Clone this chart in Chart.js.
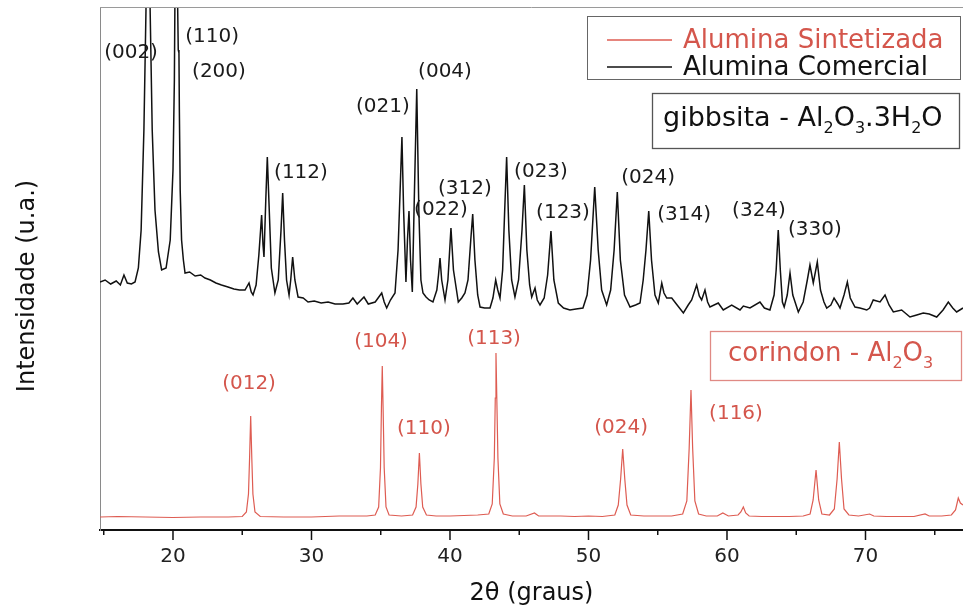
<!DOCTYPE html>
<html>
<head>
<meta charset="utf-8">
<script src="https://cdn.jsdelivr.net/npm/chart.js@4"></script>
<style>
  html, body { margin: 0; padding: 0; background: #fff; }
  #wrap { width: 963px; height: 608px; }
</style>
</head>
<body>
<div id="wrap"><canvas id="diagramm" width="963" height="608"></canvas></div>
<script>
// 2θ (graus) / intensidade (u.a.)
const comercial = [
  [14.73, 248], [15.1, 250], [15.5, 246], [15.9, 249], [16.2, 245], [16.46, 255], [16.7, 247],
  [17.0, 246], [17.26, 248], [17.5, 262], [17.7, 300], [17.9, 400], [18.05, 520], [18.2, 700],
  [18.35, 520], [18.5, 400], [18.7, 320], [18.95, 278], [19.18, 260], [19.5, 262], [19.8, 290],
  [20.0, 360], [20.1, 450], [20.2, 650], [20.3, 560], [20.38, 480], [20.43, 477], [20.46, 420],
  [20.52, 340], [20.62, 290], [20.75, 270], [20.87, 257], [21.2, 258], [21.6, 254], [22.0, 255],
  [22.31, 252], [22.7, 250], [23.1, 247], [23.5, 245], [23.97, 243], [24.4, 241], [24.8, 240],
  [25.2, 240], [25.49, 247], [25.65, 238], [25.78, 235], [26.0, 245], [26.2, 275], [26.4, 315],
  [26.5, 285], [26.57, 273], [26.7, 330], [26.81, 373], [26.95, 320], [27.1, 262], [27.36, 237],
  [27.6, 250], [27.8, 300], [27.92, 337], [28.05, 290], [28.2, 250], [28.38, 235], [28.5, 250],
  [28.64, 273], [28.8, 250], [29.03, 233], [29.4, 232], [29.75, 228], [30.2, 229], [30.7, 227],
  [31.2, 228], [31.7, 226], [32.27, 226], [32.7, 227], [32.99, 232], [33.3, 226], [33.79, 233],
  [34.1, 226], [34.6, 228], [35.07, 237], [35.25, 228], [35.43, 222], [35.7, 230], [36.03, 237],
  [36.25, 280], [36.4, 340], [36.53, 393], [36.65, 320], [36.82, 248], [36.93, 290], [37.04, 319],
  [37.15, 270], [37.28, 238], [37.42, 330], [37.6, 441], [37.75, 320], [37.9, 250], [38.05, 237],
  [38.27, 233], [38.5, 230], [38.77, 228], [39.05, 240], [39.17, 255], [39.28, 272], [39.4, 250],
  [39.64, 230], [39.85, 250], [40.07, 302], [40.25, 260], [40.6, 228], [40.85, 232], [41.08, 237],
  [41.3, 250], [41.5, 290], [41.64, 316], [41.8, 270], [42.0, 235], [42.17, 223], [42.5, 222],
  [42.89, 222], [43.1, 232], [43.3, 250], [43.45, 240], [43.61, 232], [43.8, 260], [43.95, 320],
  [44.09, 373], [44.25, 300], [44.45, 250], [44.69, 233], [44.95, 250], [45.2, 300], [45.37, 345],
  [45.55, 280], [45.75, 245], [45.9, 233], [46.14, 242], [46.3, 230], [46.5, 225], [46.8, 232],
  [47.05, 255], [47.29, 299], [47.5, 250], [47.82, 227], [48.2, 222], [48.66, 220], [49.1, 221],
  [49.6, 222], [49.9, 235], [50.15, 270], [50.45, 343], [50.7, 280], [50.95, 240], [51.31, 225],
  [51.6, 240], [51.85, 280], [52.08, 338], [52.3, 270], [52.6, 235], [53.0, 223], [53.4, 225],
  [53.72, 227], [53.95, 250], [54.15, 280], [54.35, 319], [54.55, 270], [54.8, 235], [55.04, 227],
  [55.29, 247], [55.45, 237], [55.65, 232], [56.01, 232], [56.4, 225], [56.85, 217], [57.2, 225],
  [57.45, 230], [57.81, 245], [58.0, 234], [58.17, 230], [58.41, 240], [58.6, 228], [58.77, 223],
  [59.37, 227], [59.73, 220], [60.34, 225], [60.94, 220], [61.18, 224], [61.66, 222], [62.38, 228],
  [62.7, 222], [63.1, 220], [63.4, 235], [63.55, 260], [63.7, 300], [63.85, 260], [64.0, 228],
  [64.13, 223], [64.35, 235], [64.55, 257], [64.75, 235], [65.15, 218], [65.5, 228], [65.8, 250],
  [65.99, 265], [66.23, 247], [66.52, 268], [66.75, 240], [67.0, 228], [67.2, 222], [67.5, 225],
  [67.73, 232], [68.0, 226], [68.16, 222], [68.45, 235], [68.69, 248], [68.9, 232], [69.24, 223],
  [69.6, 222], [70.09, 220], [70.3, 222], [70.56, 230], [71.05, 228], [71.41, 235], [71.7, 225],
  [72.01, 218], [72.61, 220], [73.21, 213], [73.7, 215], [74.17, 217], [74.6, 216], [75.14, 213],
  [75.6, 220], [75.98, 228], [76.3, 222], [76.58, 218], [77.04, 222]
];

const sintetizada = [
  [14.73, 13], [16, 13.5], [18, 13], [20, 12.5], [22, 13], [24, 13], [25.0, 13.5], [25.3, 18],
  [25.45, 36], [25.53, 72], [25.61, 114], [25.69, 72], [25.77, 36], [25.92, 18], [26.3, 13.5],
  [28, 13], [30, 13], [32, 14], [34, 14], [34.6, 15], [34.85, 23], [34.98, 62], [35.05, 122],
  [35.11, 164], [35.17, 122], [35.25, 62], [35.38, 23], [35.6, 15], [36.5, 14], [37.3, 15],
  [37.55, 23], [37.68, 46], [37.79, 77], [37.9, 46], [38.03, 23], [38.3, 15], [39, 14], [40, 14],
  [41, 14.5], [42, 15], [42.8, 16], [43.05, 26], [43.2, 72], [43.27, 132], [43.32, 177],
  [43.38, 132], [43.46, 72], [43.6, 26], [43.85, 16], [44.5, 14], [45.5, 14], [46.1, 17],
  [46.4, 14], [47, 14], [48, 14], [49, 13.5], [50, 14], [51, 13.5], [51.9, 15], [52.15, 25],
  [52.32, 51], [52.47, 81], [52.62, 51], [52.78, 25], [53.05, 15], [54, 14], [55, 14], [56, 14],
  [56.8, 16], [57.1, 29], [57.27, 82], [57.4, 140], [57.52, 82], [57.68, 29], [57.95, 16],
  [58.5, 14], [59.3, 14], [59.7, 17], [60.1, 14], [60.8, 15], [61.0, 18], [61.18, 23], [61.35, 17],
  [61.6, 14], [62.5, 13.5], [63.5, 13.5], [64.5, 13.5], [65.5, 14], [66.0, 16], [66.22, 30],
  [66.43, 60], [66.62, 30], [66.85, 16], [67.4, 15], [67.75, 21], [67.95, 51], [68.11, 88],
  [68.27, 51], [68.45, 21], [68.8, 15], [69.5, 14], [70.3, 16], [70.6, 14], [71.5, 13.5],
  [72.5, 13.5], [73.5, 13.5], [74.3, 16], [74.6, 14], [75.5, 14], [76.2, 15], [76.5, 20],
  [76.7, 32], [76.85, 27], [77.04, 25]
];

// índices de Miller (gibbsita, preto) e posição do texto (2θ, intensidade)
const gibbsitaLabels = ['(002)', '(110)', '(200)', '(112)', '(021)', '(004)', '(022)', '(312)',
                        '(023)', '(123)', '(024)', '(314)', '(324)', '(330)'];
const gibbsitaLabelX = [16.97, 22.82, 23.32, 29.24, 35.16, 39.64, 39.35, 41.08, 46.57, 48.16, 54.30, 56.90, 62.31, 66.35];
const gibbsitaLabelY = [477, 493, 458, 357, 423, 458, 320, 341, 358, 317, 352, 315, 319, 300];

// índices de Miller (corindon, vermelho)
const corindonLabels = ['(012)', '(104)', '(110)', '(113)', '(024)', '(116)'];
const corindonLabelX = [25.49, 35.02, 38.12, 43.18, 52.35, 60.65];
const corindonLabelY = [146, 188, 101, 191, 102, 116];

const xTicksMajor = [20, 30, 40, 50, 60, 70];

const RED = '#de5c52';
const RED_TEXT = '#d4564c';
const FONT = '"DejaVu Sans", sans-serif';

// texto com subscritos: partes [texto, subscrito?]
function drawSubText(ctx, parts, x, y, size, color) {
  ctx.save();
  ctx.fillStyle = color;
  ctx.textBaseline = 'middle';
  ctx.textAlign = 'left';
  let cx = x;
  parts.forEach(([t, sub]) => {
    const s = sub ? Math.round(size * 0.6) : size;
    ctx.font = s + 'px ' + FONT;
    ctx.fillText(t, cx, sub ? y + size * 0.38 : y);
    cx += ctx.measureText(t).width;
  });
  ctx.restore();
}

const extras = {
  id: 'extras',
  afterDraw(chart) {
    const ctx = chart.ctx;
    const xs = chart.scales.x, ys = chart.scales.y;
    const area = chart.chartArea;

    // moldura superior
    ctx.save();
    ctx.strokeStyle = '#9a9a9a';
    ctx.lineWidth = 1;
    ctx.beginPath();
    ctx.moveTo(area.left, area.top + 0.5);
    ctx.lineTo(area.right, area.top + 0.5);
    ctx.stroke();

    // marcas do eixo x (maiores a cada 10, menores a cada 5)
    ctx.strokeStyle = '#111';
    ctx.lineWidth = 1.5;
    for (let v = 15; v <= 75; v += 5) {
      const px = xs.getPixelForValue(v);
      const len = xTicksMajor.includes(v) ? 10 : 5;
      ctx.beginPath();
      ctx.moveTo(px, area.bottom);
      ctx.lineTo(px, area.bottom + len);
      ctx.stroke();
    }

    // rótulos dos picos
    ctx.font = '20px ' + FONT;
    ctx.textAlign = 'center';
    ctx.textBaseline = 'middle';
    ctx.fillStyle = '#1a1a1a';
    gibbsitaLabels.forEach((t, i) => {
      ctx.fillText(t, xs.getPixelForValue(gibbsitaLabelX[i]), ys.getPixelForValue(gibbsitaLabelY[i]));
    });
    ctx.fillStyle = RED_TEXT;
    corindonLabels.forEach((t, i) => {
      ctx.fillText(t, xs.getPixelForValue(corindonLabelX[i]), ys.getPixelForValue(corindonLabelY[i]));
    });

    // legenda
    ctx.strokeStyle = '#666';
    ctx.lineWidth = 1;
    ctx.strokeRect(587.5, 16.5, 373, 63);
    const ds = chart.data.datasets;
    const rowsY = [40, 67];
    ds.forEach((d, i) => {
      ctx.strokeStyle = d.borderColor;
      ctx.lineWidth = 1.3;
      ctx.beginPath();
      ctx.moveTo(607, rowsY[i]);
      ctx.lineTo(672, rowsY[i]);
      ctx.stroke();
      ctx.fillStyle = i === 0 ? RED_TEXT : '#111';
      ctx.font = '26px ' + FONT;
      ctx.textAlign = 'left';
      ctx.fillText(d.label, 683, rowsY[i] + 1);
    });

    // caixa gibbsita
    ctx.strokeStyle = '#555';
    ctx.strokeRect(652.5, 93.5, 307, 55);
    drawSubText(ctx, [['gibbsita - Al', false], ['2', true], ['O', false], ['3', true],
                      ['.3H', false], ['2', true], ['O', false]], 663, 119, 27, '#111');

    // caixa corindon
    ctx.strokeStyle = '#e08a84';
    ctx.strokeRect(710.5, 331.5, 251, 49);
    drawSubText(ctx, [['corindon - Al', false], ['2', true], ['O', false], ['3', true]], 728, 354, 26, RED_TEXT);

    // título do eixo y
    ctx.translate(28, 286);
    ctx.rotate(-Math.PI / 2);
    ctx.font = '24px ' + FONT;
    ctx.fillStyle = '#111';
    ctx.textAlign = 'center';
    ctx.textBaseline = 'middle';
    ctx.fillText('Intensidade (u.a.)', 0, 0);
    ctx.restore();
  }
};

const toXY = arr => arr.map(p => ({ x: p[0], y: p[1] }));

new Chart(document.getElementById('diagramm').getContext('2d'), {
  type: 'line',
  data: {
    datasets: [
      {
        label: 'Alumina Sintetizada',
        data: toXY(sintetizada),
        borderColor: RED,
        borderWidth: 1.2,
        pointRadius: 0,
        tension: 0
      },
      {
        label: 'Alumina Comercial',
        data: toXY(comercial),
        borderColor: '#111',
        borderWidth: 1.5,
        pointRadius: 0,
        tension: 0
      }
    ]
  },
  options: {
    responsive: false,
    animation: false,
    layout: { padding: { top: 7, right: 0, left: 0, bottom: 0 } },
    plugins: {
      legend: { display: false },
      tooltip: { enabled: false }
    },
    scales: {
      x: {
        type: 'linear',
        min: 14.73,
        max: 77.04,
        grid: { display: false, drawTicks: false },
        border: { display: true, color: '#111', width: 2 },
        ticks: {
          stepSize: 10,
          includeBounds: false,
          padding: 15,
          color: '#222',
          font: { family: FONT, size: 20 },
          maxRotation: 0,
          callback: v => (v % 10 === 0 ? String(v) : '')
        },
        title: {
          display: true,
          text: '2θ (graus)',
          color: '#111',
          font: { family: FONT, size: 24 },
          padding: { top: 0, bottom: 0 }
        },
        afterFit: s => { s.height = 78; }
      },
      y: {
        min: 0,
        max: 523,
        grid: { display: false, drawTicks: false },
        border: { display: true, color: '#8a8a8a', width: 1 },
        ticks: { display: false },
        afterFit: s => { s.width = 100; }
      }
    }
  },
  plugins: [extras]
});
</script>
</body>
</html>
